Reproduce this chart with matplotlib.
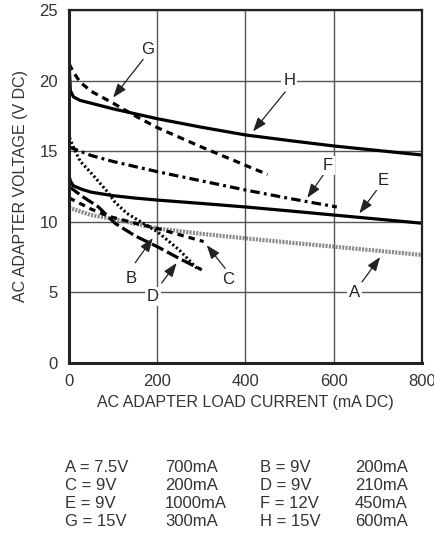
import numpy as np
import matplotlib
matplotlib.use("Agg")
import matplotlib.pyplot as plt

plt.rcParams['font.family'] = ['Liberation Sans', 'DejaVu Sans']

# curve data (mA, V)
H_x = [0, 3, 10, 25, 50, 100, 150, 200, 300, 400, 500, 600, 700, 800]
H_y = [21.5, 19.3, 18.85, 18.6, 18.4, 18.0, 17.65, 17.3, 16.7, 16.15, 15.75, 15.37, 15.05, 14.73]
G_x = [0, 10, 25, 50, 100, 150, 200, 300, 400, 450]
G_y = [21.2, 20.6, 19.9, 19.25, 18.4, 17.5, 16.67, 15.3, 14.0, 13.35]
F_x = [0, 50, 100, 200, 300, 400, 500, 607]
F_y = [15.3, 14.7, 14.27, 13.55, 12.9, 12.25, 11.65, 11.05]
E_x = [0, 3, 10, 29, 50, 100, 150, 200, 300, 400, 500, 600, 700, 800]
E_y = [13.3, 12.9, 12.55, 12.3, 12.1, 11.85, 11.68, 11.54, 11.3, 11.05, 10.77, 10.48, 10.19, 9.9]
A_x = [0, 50, 100, 200, 300, 400, 500, 600, 700, 800]
A_y = [11.0, 10.48, 10.2, 9.53, 9.15, 8.83, 8.53, 8.24, 7.95, 7.65]
B_x = [0, 0, 2, 10, 25, 49, 85, 104, 131, 200, 250, 290]
B_y = [21.8, 16.2, 15.9, 15.3, 14.3, 13.5, 12.2, 11.4, 10.6, 9.3, 8.0, 6.7]
C_x = [0, 50, 89, 150, 200, 305]
C_y = [11.7, 10.9, 10.4, 9.9, 9.53, 8.6]
D_x = [0, 30, 66, 104, 150, 200, 250, 301]
D_y = [12.5, 11.8, 11.07, 9.9, 9.0, 8.24, 7.4, 6.6]

x_ticks = [0, 200, 400, 600, 800]
y_ticks = [0, 5, 10, 15, 20, 25]

# label text, label pos, arrow tail, arrow head
labels = [
    ("G", (179, 22.2), (168, 21.5), (100, 18.8)),
    ("H", (499, 20.0), (490, 19.2), (417, 16.4)),
    ("F", (587, 14.0), (576, 13.3), (540, 11.7)),
    ("E", (712, 12.95), (701, 12.4), (658, 10.6)),
    ("A", (648, 4.96), (664, 5.74), (705, 7.5)),
    ("C", (360, 5.9), (354, 6.7), (312, 8.35)),
    ("B", (142, 6.0), (150, 7.1), (190, 8.85)),
    ("D", (190, 4.7), (210, 5.67), (244, 7.08)),
]

legend_rows = [
    ["A = 7.5V", "700mA", "B = 9V", "200mA"],
    ["C = 9V", "200mA", "D = 9V", "210mA"],
    ["E = 9V", "1000mA", "F = 12V", "450mA"],
    ["G = 15V", "300mA", "H = 15V", "600mA"],
]

fig = plt.figure(figsize=(4.35, 5.42), dpi=100)
ax = fig.add_axes([69/435, 1-363/542, 353/435, 353/542])

ax.plot(H_x, H_y, color='black', lw=2.3)
ax.plot(G_x, G_y, color='black', lw=2.3, dashes=(2.2, 1.6))
ax.plot(F_x, F_y, color='black', lw=2.3, dashes=(3.0, 1.3, 0.9, 1.3))
ax.plot(E_x, E_y, color='black', lw=2.3)
ax.plot(A_x, A_y, color='#8a8a8a', lw=3.0, dashes=(0.5, 0.3))
ax.plot(B_x, B_y, color='black', lw=2.2, dashes=(0.7, 0.8))
ax.plot(C_x, C_y, color='black', lw=2.3, dashes=(2.0, 1.6))
ax.plot(D_x, D_y, color='black', lw=2.3, dashes=(4.0, 1.3))

for txt, pos, tail, head in labels:
    ax.annotate("", xy=head, xytext=tail,
                arrowprops=dict(arrowstyle='-|>,head_length=0.6,head_width=0.22',
                                color='#222222', lw=0.9,
                                mutation_scale=14, shrinkA=0, shrinkB=0))
    ax.text(pos[0], pos[1], txt, fontsize=12, ha='center', va='center',
            color='#222222', bbox=dict(facecolor='white', edgecolor='none', pad=1.5))

ax.set_xlim(0, 800)
ax.set_ylim(0, 25)
ax.set_xticks(x_ticks)
ax.set_yticks(y_ticks)
ax.grid(True, color='#555555', lw=1.0)
ax.set_axisbelow(True)
ax.tick_params(length=0, labelsize=12, colors='#333333', pad=8)
for s in ax.spines.values():
    s.set_color('#222222')
    s.set_linewidth(1.6)
ax.spines['left'].set_linewidth(2.2)
ax.spines['bottom'].set_linewidth(2.2)

ax.set_xlabel("AC ADAPTER LOAD CURRENT (mA DC)", fontsize=11.5, color='#333333', labelpad=4)
ax.set_ylabel("AC ADAPTER VOLTAGE (V DC)", fontsize=11.5, color='#333333', labelpad=8)

col_x = [65, 165, 260, 355]
row_y = [468, 486, 504, 521]
for r, row in enumerate(legend_rows):
    for c, cell in enumerate(row):
        fig.text(col_x[c]/435, 1-row_y[r]/542, cell, fontsize=12, color='#333333',
                 ha='left', va='center')

fig.savefig("out.png", dpi=100)
